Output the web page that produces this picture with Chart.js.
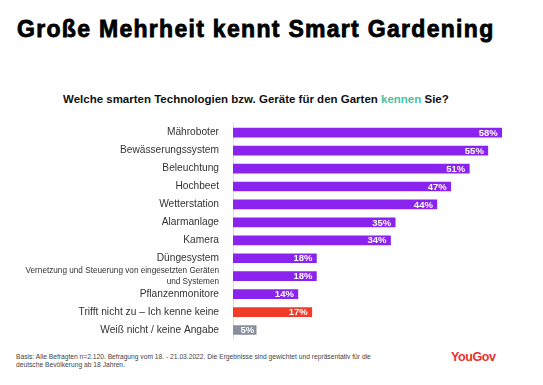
<!DOCTYPE html>
<html>
<head>
<meta charset="utf-8">
<script src="https://cdn.jsdelivr.net/npm/chart.js@4"></script>
<style>
  body { margin: 0; width: 543px; height: 385px; background: #fff; position: relative; overflow: hidden; font-family: "Liberation Sans", Arial, sans-serif; }
  #title { position: absolute; left: 17px; top: 18px; font: bold 23px/1 "Liberation Sans", Arial, sans-serif; letter-spacing: 1.3px; -webkit-text-stroke: 0.8px #000; color: #000; white-space: nowrap; }
  #sub { position: absolute; left: 63px; top: 94px; font: bold 11.5px/1 "Liberation Sans", Arial, sans-serif; color: #111; white-space: nowrap; }
  #sub span { color: #3fc4a0; }
  #wrap { position: absolute; left: 0; top: 120px; width: 543px; height: 222px; }
  #foot { position: absolute; left: 16px; top: 353px; font: 6.7px/8px "Liberation Sans", Arial, sans-serif; color: #444; width: 380px; }
  #logo { position: absolute; left: 451px; top: 351px; font: bold 12.5px/1 "Liberation Sans", Arial, sans-serif; color: #e8312f; letter-spacing: -0.4px; }
</style>
</head>
<body>
<div id="title">Große Mehrheit kennt Smart Gardening</div>
<div id="sub">Welche smarten Technologien bzw. Geräte für den Garten <span>kennen</span> Sie?</div>
<div id="wrap"><canvas id="chart"></canvas></div>
<div id="foot">Basis: Alle Befragten n=2.120. Befragung vom 18. - 21.03.2022. Die Ergebnisse sind gewichtet und repräsentativ für die<br>deutsche Bevölkerung ab 18 Jahren.</div>
<div id="logo">YouGov</div>
<script>
// categories and values (percent)
const categories = [
    'Mähroboter',
    'Bewässerungssystem',
    'Beleuchtung',
    'Hochbeet',
    'Wetterstation',
    'Alarmanlage',
    'Kamera',
    'Düngesystem',
    ['Vernetzung und Steuerung von eingesetzten Geräten', 'und Systemen'],
    'Pflanzenmonitore',
    'Trifft nicht zu – Ich kenne keine',
    'Weiß nicht / keine Angabe'
];
const values = [58, 55, 51, 47, 44, 35, 34, 18, 18, 14, 17, 5];

const purple = '#8b23ef';
const red = '#f23c2a';
const grey = '#8a8f9e';
const barColors = values.map((v, i) => i === 10 ? red : (i === 11 ? grey : purple));

// value labels at the end of each bar
const valueLabels = {
    id: 'valueLabels',
    afterDatasetsDraw(chart) {
        const ctx = chart.ctx;
        const meta = chart.getDatasetMeta(0);
        ctx.save();
        ctx.font = 'bold 9.5px "Liberation Sans", Arial, sans-serif';
        ctx.fillStyle = '#fff';
        ctx.textAlign = 'right';
        ctx.textBaseline = 'middle';
        meta.data.forEach((bar, i) => {
            const off = values[i] < 8 ? 2 : 4;
            ctx.fillText(values[i] + '%', bar.x - off, bar.y + 0.5);
        });
        ctx.restore();
    }
};

const ctx = document.getElementById('chart');
new Chart(ctx, {
    type: 'bar',
    data: {
        labels: categories,
        datasets: [{
            data: values,
            backgroundColor: barColors,
            barThickness: 9,
            borderSkipped: false
        }]
    },
    options: {
        indexAxis: 'y',
        responsive: true,
        maintainAspectRatio: false,
        animation: false,
        layout: { padding: { top: 3.7, bottom: 3, right: 32, left: 0 } },
        plugins: { legend: { display: false }, tooltip: { enabled: false } },
        scales: {
            x: { display: false, min: 0, max: 60 },
            y: {
                afterFit(scale) {
                    scale.width = 233;
                    // no extra room for label overhang
                    scale.paddingTop = 0;
                    scale.paddingBottom = 0;
                },
                grid: { display: false, drawTicks: false },
                border: { display: true, color: '#e2ddd2', width: 1 },
                ticks: {
                    autoSkip: false,
                    padding: 14,
                    color: '#333',
                    font: (c) => c.index === 8
                        ? { family: '"Liberation Sans", Arial, sans-serif', size: 8.2, lineHeight: 1.28 }
                        : { family: '"Liberation Sans", Arial, sans-serif', size: 10.2 }
                }
            }
        }
    },
    plugins: [valueLabels]
});
</script>
</body>
</html>
